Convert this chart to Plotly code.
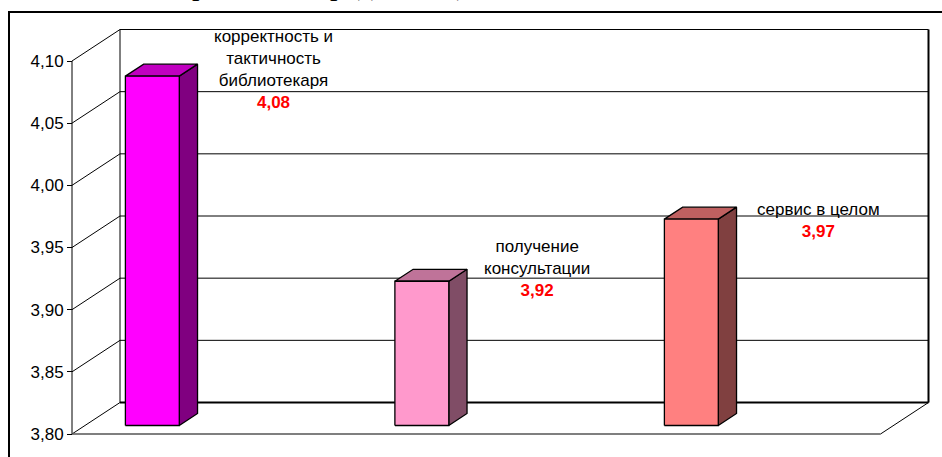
import plotly.graph_objects as go

# ---------------- data ----------------
categories = ["корректность и<br>тактичность<br>библиотекаря",
              "получение<br>консультации",
              "сервис в целом"]
values = [4.081, 3.916, 3.966]
tick_values = [3.80, 3.85, 3.90, 3.95, 4.00, 4.05, 4.10]
tick_labels = ["3,80", "3,85", "3,90", "3,95", "4,00", "4,05", "4,10"]
title_text = "Сравнение средних оценок"

# ---------------- styles ----------------
front_colors = ["#FF00FF", "#FF99CC", "#FF8080"]
side_colors = ["#800080", "#804D66", "#804040"]
top_colors = ["#C000C0", "#BF7399", "#BF6060"]
label_shift = [(121, 7), (115, 13), (127, -1)]  # pixel offsets of data labels

W, H = 942, 457
PX_X = 269.5      # pixels per category unit
PX_Y = 1243.3     # pixels per value unit
ORIG_PX = (72, 434)  # pixel of front-left-bottom corner
YMIN, YMAX = tick_values[0], tick_values[-1]
X0 = -0.25
X1 = X0 + len(values)
DX = 48 / PX_X    # depth shift (x units)
DY = 31.5 / PX_Y  # depth shift (y units)
D0 = 0.27         # bar front depth fraction
BD = 0.38         # bar depth fraction
BW = 0.2          # bar width (x units)

x_range = [X0 - ORIG_PX[0] / PX_X, X0 + (W - ORIG_PX[0]) / PX_X]
y_range = [YMIN - (H - ORIG_PX[1]) / PX_Y, YMIN + ORIG_PX[1] / PX_Y]


def fmt(v):
    return f"{v:.2f}".replace(".", ",")


fig = go.Figure()


def line(xs, ys, color="#000000", width=1):
    fig.add_trace(go.Scatter(x=xs, y=ys, mode="lines",
                             line=dict(color=color, width=width),
                             hoverinfo="skip", showlegend=False))


def poly(xs, ys, fill):
    fig.add_trace(go.Scatter(x=xs + [xs[0]], y=ys + [ys[0]], mode="lines",
                             fill="toself", fillcolor=fill,
                             line=dict(color="#000000", width=1.3),
                             hoverinfo="skip", showlegend=False))


# back wall gridlines + left wall diagonals
for v in tick_values:
    line([X0 + DX, X1 + DX], [v + DY, v + DY], width=2 if v == YMIN else 1)
    line([X0, X0 + DX], [v, v + DY], width=1)
# wall verticals
line([X0 + DX, X0 + DX], [YMIN + DY, YMAX + DY], width=1)
line([X1 + DX, X1 + DX], [YMIN + DY, YMAX + DY], width=2)
line([X0, X0], [YMIN, YMAX], width=1)
# floor
line([X0, X1], [YMIN, YMIN], color="#555555", width=1.5)
line([X1, X1 + DX], [YMIN, YMIN + DY], width=1)

# bars
for i, v in enumerate(values):
    xl = i - BW / 2 + D0 * DX
    xr = i + BW / 2 + D0 * DX
    yb = YMIN + D0 * DY
    yt = v + D0 * DY
    ox, oy = BD * DX, BD * DY
    poly([xr, xr + ox, xr + ox, xr], [yb, yb + oy, yt + oy, yt], side_colors[i])
    poly([xl, xr, xr + ox, xl + ox], [yt, yt, yt + oy, yt + oy], top_colors[i])
    poly([xl, xr, xr, xl], [yb, yb, yt, yt], front_colors[i])

annotations = []
for i, (cat, v) in enumerate(zip(categories, values)):
    annotations.append(dict(
        x=i + D0 * DX, y=v + D0 * DY, xref="x", yref="y",
        xshift=label_shift[i][0], yshift=label_shift[i][1],
        text=f"{cat}<br><b><span style='color:#FF0000'>{fmt(v)}</span></b>",
        showarrow=False, align="center",
        font=dict(family="Liberation Sans, Arial", size=17, color="#000000")))

annotations.append(dict(
    x=170 / W, y=1, xref="paper", yref="paper", xanchor="left", yanchor="bottom",
    yshift=-3, text=title_text, showarrow=False,
    font=dict(family="Liberation Serif, Times New Roman", size=30, color="#000000")))

fig.update_layout(
    width=W, height=H,
    margin=dict(l=0, r=0, t=0, b=0),
    paper_bgcolor="#FFFFFF", plot_bgcolor="#FFFFFF",
    xaxis=dict(range=x_range, visible=False, fixedrange=True),
    yaxis=dict(range=y_range, anchor="free", position=ORIG_PX[0] / W,
               tickvals=tick_values, ticktext=tick_labels,
               ticks="outside", ticklen=5, tickcolor="#000000", tickwidth=1,
               showgrid=False, zeroline=False, showline=False,
               tickfont=dict(family="Liberation Sans, Arial", size=17, color="#000000"),
               fixedrange=True),
    annotations=annotations,
    shapes=[dict(type="rect", xref="paper", yref="paper",
                 x0=9 / W, x1=1.05, y0=-0.1, y1=1 - 12 / H,
                 line=dict(color="#000000", width=2), fillcolor="rgba(0,0,0,0)")],
)

fig.write_html("out.html", config={"displayModeBar": False},
               post_script="document.body.style.margin='0';"
                           "document.body.style.overflow='hidden';")
